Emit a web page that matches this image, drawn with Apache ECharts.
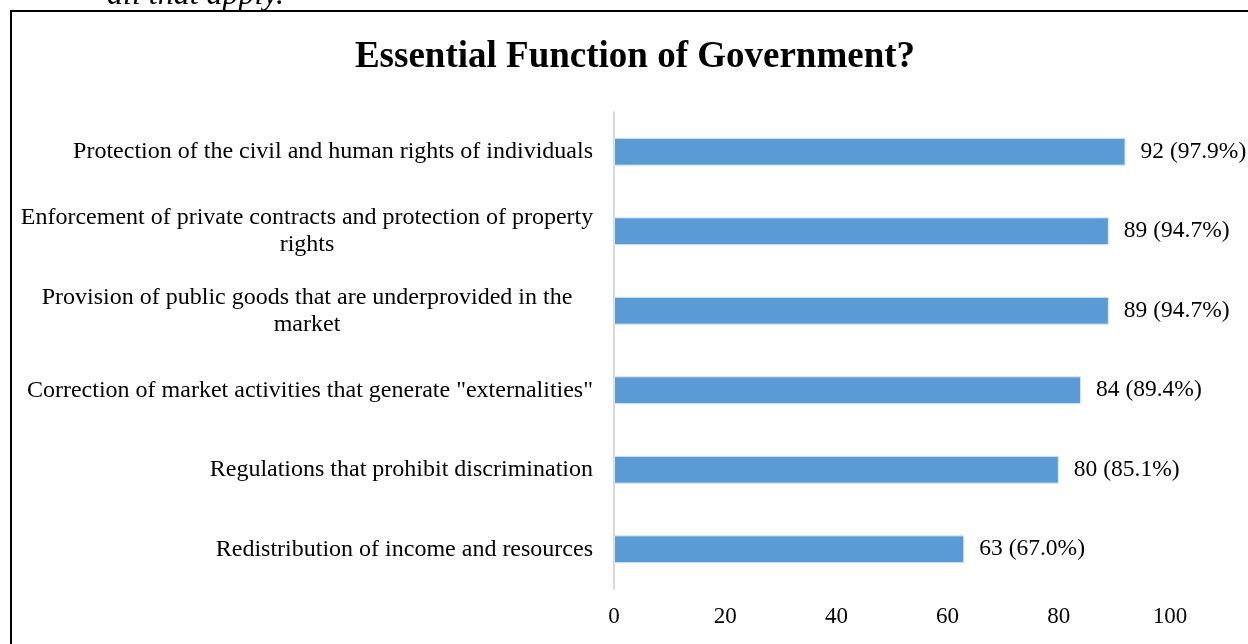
<!DOCTYPE html>
<html>
<head>
<meta charset="utf-8">
<style>
  html, body { margin: 0; padding: 0; background: #fff; }
  #chart { width: 1248px; height: 644px; }
</style>
<script src="https://cdn.jsdelivr.net/npm/echarts@6/dist/echarts.min.js"></script>
</head>
<body>
<div id="chart"></div>
<script>
// Survey responses, top to bottom
const categories = [
  'Protection of the civil and human rights of individuals',
  'Enforcement of private contracts and protection of property\nrights',
  'Provision of public goods that are underprovided in the\nmarket',
  'Correction of market activities that generate "externalities"',
  'Regulations that prohibit discrimination',
  'Redistribution of income and resources'
];
const counts = [92, 89, 89, 84, 80, 63];
const percents = ['97.9%', '94.7%', '94.7%', '89.4%', '85.1%', '67.0%'];
const xTicks = [0, 20, 40, 60, 80, 100];

const serif = '"Liberation Serif", "Times New Roman", serif';

const chart = echarts.init(document.getElementById('chart'), null, { renderer: 'canvas' });

chart.setOption({
  backgroundColor: '#fff',
  animation: false,
  title: {
    text: 'Essential Function of Government?',
    left: 630,
    top: 34,
    textAlign: 'center',
    textStyle: { fontFamily: serif, fontSize: 37, fontWeight: 'bold', color: '#000' }
  },
  graphic: [
    {
      type: 'rect',
      shape: { x: 11, y: 11, width: 1400, height: 800 },
      style: { fill: 'none', stroke: '#000', lineWidth: 2 },
      silent: true
    },
    {
      type: 'text',
      x: 107,
      y: 12,
      style: {
        text: 'all that apply.',
        fontFamily: serif,
        fontStyle: 'italic',
        fontSize: 32,
        fill: '#000',
        textVerticalAlign: 'bottom'
      },
      silent: true
    }
  ],
  grid: { left: 614, right: 78, top: 112, bottom: 55, containLabel: false },
  xAxis: {
    type: 'value',
    min: xTicks[0],
    max: xTicks[xTicks.length - 1],
    interval: xTicks[1] - xTicks[0],
    axisLine: { show: false },
    axisTick: { show: false },
    splitLine: { show: false },
    axisLabel: { fontFamily: serif, fontSize: 23, color: '#000', margin: 16 }
  },
  yAxis: {
    type: 'category',
    inverse: true,
    data: categories,
    axisLine: { show: true, lineStyle: { color: '#d9d9d9', width: 2 } },
    axisTick: { show: false },
    axisLabel: {
      fontFamily: serif,
      fontSize: 24,
      color: '#000',
      margin: 21,
      lineHeight: 27,
      formatter: function (v) {
        return v.indexOf('\n') >= 0
          ? v.split('\n').map(function (l) { return '{c|' + l + '}'; }).join('\n')
          : v;
      },
      rich: {
        c: { width: 572, align: 'center', fontFamily: serif, fontSize: 24, color: '#000', lineHeight: 27 }
      }
    }
  },
  series: [{
    type: 'bar',
    data: counts,
    barWidth: '35%',
    itemStyle: { color: '#5b9bd5', borderColor: '#d6e6f5', borderWidth: 1 },
    label: {
      show: true,
      position: 'right',
      distance: 15,
      fontFamily: serif,
      fontSize: 23.5,
      color: '#000',
      formatter: function (p) { return counts[p.dataIndex] + ' (' + percents[p.dataIndex] + ')'; }
    }
  }]
});
</script>
</body>
</html>
